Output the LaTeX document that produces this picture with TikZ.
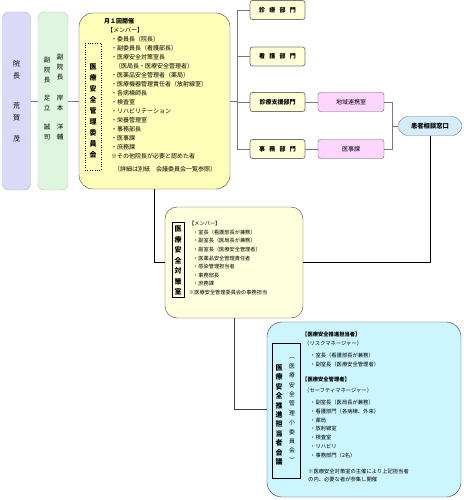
\documentclass[tikz,border=0pt]{standalone}
\usepackage{fontspec}
\setmainfont{Noto Sans CJK JP}
\definecolor{orgPurple}{RGB}{218, 218, 248}
\definecolor{orgGreen}{RGB}{222, 245, 222}
\definecolor{orgYellow}{RGB}{255, 255, 185}
\definecolor{orgCream}{RGB}{255, 255, 222}
\definecolor{orgDept}{RGB}{255, 255, 214}
\definecolor{orgPink}{RGB}{252, 212, 252}
\definecolor{orgSky}{RGB}{212, 236, 252}
\definecolor{orgCyan}{RGB}{204, 246, 255}
\definecolor{orgLine}{RGB}{120, 120, 120}
\usetikzlibrary{shapes.misc, positioning}
\tikzset{
  headbox/.style={rectangle, rounded corners=6pt, draw=#1!60!gray, fill=#1, minimum width=28pt, minimum height=178pt, inner sep=0pt, align=center},
  bigbox/.style={rectangle, rounded corners=14pt, draw=#1!25!black, fill=#1, inner sep=0pt},
  deptbox/.style={rectangle, rounded corners=2.5pt, draw=orgLine, thick, fill=orgDept, minimum width=55pt, minimum height=19pt, inner sep=0pt, font=\fontsize{6}{7}\selectfont\bfseries},
  sectbox/.style={rectangle, rounded corners=2.5pt, draw=orgPink!40!black, fill=orgPink, minimum width=66pt, minimum height=19pt, inner sep=0pt, font=\fontsize{6}{7}\selectfont},
  vtext/.style={align=center, inner sep=0pt, font=\fontsize{#1}{1.5*#1}\selectfont},
  memo/.style={anchor=north west, align=left, inner sep=0pt},
  link/.style={draw=orgLine, semithick},
  mainlink/.style={draw=black, thick},
}
\begin{document}
\begin{tikzpicture}[x=1pt, y=-1pt]
  \useasboundingbox (0,0) rectangle (463,500);

  % director and vice directors
  \node[headbox=orgPurple, font=\fontsize{7}{12}\selectfont] (incho) at (16.5,101) {院\\長\\[18pt]荒\\賀\\[9pt]茂};
  \node[headbox=orgGreen, minimum width=30pt] (fuku) at (53,101) {};
  \node[align=center, inner sep=0pt, font=\fontsize{6.5}{10}\selectfont] (fukuA) at (60,97) {副\\院\\長\\[11pt]岸\\本\\[9pt]洋\\輔};
  \node[align=center, inner sep=0pt, font=\fontsize{6.5}{10}\selectfont] (fukuB) at (47,98.5) {副\\院\\長\\[8pt]足\\立\\[9pt]誠\\司};

  % safety committee
  \node[bigbox=orgYellow, minimum width=151pt, minimum height=176pt] (iinkai) at (154.5,101) {};
  \node[draw=black, dotted, minimum width=16pt, minimum height=127pt, inner sep=0pt] (iinkaiTitle) at (93,106.5) {};
  \node[align=center, inner sep=0pt, font=\fontsize{7}{11}\selectfont\bfseries] (iinkaiName) at (93,111) {医\\療\\安\\全\\管\\理\\委\\員\\会};
  \node[memo, font=\fontsize{6}{9}\selectfont] (iinkaiMemo) at (104,18) {%
    \textbf{月１回開催}\\
    \hspace*{3pt}【メンバー】\\
    \hspace*{7pt}・委員長（院長）\\
    \hspace*{7pt}・副委員長（看護部長）\\
    \hspace*{7pt}・医療安全対策室長\\
    \hspace*{11pt}（医局長・医療安全管理者）\\
    \hspace*{7pt}・医薬品安全管理者（薬局）\\
    \hspace*{7pt}・医療機器管理責任者（放射線室）\\
    \hspace*{7pt}・各病棟師長\\
    \hspace*{7pt}・検査室\\
    \hspace*{7pt}・リハビリテーション\\
    \hspace*{7pt}・栄養管理室\\
    \hspace*{7pt}・事務部長\\
    \hspace*{7pt}・医事課\\
    \hspace*{7pt}・庶務課\\
    \hspace*{7pt}※その他院長が必要と認めた者\\[4pt]
    \hspace*{10pt}（詳細は別紙　会議委員会一覧参照）};

  % departments
  \node[deptbox] (shinryo) at (277.5,10) {診\hspace{4.3pt}療\hspace{4.3pt}部\hspace{4.3pt}門};
  \node[deptbox] (kango) at (277.5,56.5) {看\hspace{4.3pt}護\hspace{4.3pt}部\hspace{4.3pt}門};
  \node[deptbox] (shien) at (277.5,102) {診療支援部門};
  \node[deptbox] (jimu) at (277.5,149) {事\hspace{4.3pt}務\hspace{4.3pt}部\hspace{4.3pt}門};
  \node[sectbox] (chiiki) at (351,102) {地域連携室};
  \node[sectbox] (iji) at (351,149) {医事課};
  \node[chamfered rectangle, chamfered rectangle xsep=3pt, rounded corners=2pt, draw=orgLine, fill=orgSky, minimum width=64pt, minimum height=19pt, inner sep=0pt, font=\fontsize{6.3}{7}\selectfont\bfseries] (madoguchi) at (430,126) {患者相談窓口};

  % safety office
  \node[bigbox=orgCream, rounded corners=12pt, minimum width=138pt, minimum height=111pt] (taisaku) at (234,262.5) {};
  \node[draw=black, minimum width=12pt, minimum height=75pt, inner sep=0pt] (taisakuTitle) at (178,259.5) {};
  \node[align=center, inner sep=0pt, font=\fontsize{7}{10.5}\selectfont\bfseries] (taisakuName) at (178,260.5) {医\\療\\安\\全\\対\\策\\室};
  \node[memo, font=\fontsize{5.2}{8.6}\selectfont] (taisakuMemo) at (189,221) {%
    【メンバー】\\
    \hspace*{4pt}・室長（看護部長が兼務）\\
    \hspace*{4pt}・副室長（医局長が兼務）\\
    \hspace*{4pt}・副室長（医療安全管理者）\\
    \hspace*{4pt}・医薬品安全管理責任者\\
    \hspace*{4pt}・感染管理担当者\\
    \hspace*{4pt}・事務部長\\
    \hspace*{4pt}・庶務課\\
    ※医療安全管理委員会の事務担当};

  % safety promotion meeting
  \node[bigbox=orgCyan, rounded corners=15pt, minimum width=194pt, minimum height=175pt] (suishin) at (364,409.5) {};
  \node[draw=black, minimum width=28pt, minimum height=135pt, inner sep=0pt] (suishinTitle) at (286,410.5) {};
  \node[align=center, inner sep=0pt, font=\fontsize{7}{9.4}\selectfont\bfseries] (suishinName) at (279,415) {医\\療\\安\\全\\推\\進\\担\\当\\者\\会\\議};
  \node[align=center, inner sep=0pt, font=\fontsize{5.8}{9.4}\selectfont] (suishinSub) at (292,410) {︵\\医\\療\\安\\全\\管\\理\\小\\委\\員\\会\\︶};
  \node[memo, font=\fontsize{5.3}{8.8}\selectfont] (suishinMemo) at (302,332) {%
    \textbf{【医療安全推進担当者】}\\
    \hspace*{2pt}（リスクマネージャー）\\[3pt]
    \hspace*{8pt}・室長（看護部長が兼務）\\
    \hspace*{8pt}・副室長（医療安全管理者）\\[7pt]
    \textbf{【医療安全管理者】}\\[2pt]
    \hspace*{2pt}（セーフティマネージャー）\\[3pt]
    \hspace*{8pt}・副室長（医局長が兼務）\\
    \hspace*{8pt}・看護部門（各病棟、外来）\\
    \hspace*{8pt}・薬局\\
    \hspace*{8pt}・放射線室\\
    \hspace*{8pt}・検査室\\
    \hspace*{8pt}・リハビリ\\
    \hspace*{8pt}・事務部門（2名）\\[7pt]
    \hspace*{6pt}※医療安全対策室の主催により上記担当者\\
    \hspace*{6pt}の内、必要な者が参集し開催};

  % connectors
  \coordinate (trunk) at (237,0);
  \coordinate (bracket) at (392,0);
  \draw[link] (incho.east) -- (fuku.west);
  \draw[link] (fuku.east) -- (iinkai.west);
  \draw[link] (iinkai.east) -- (iinkai.east -| trunk);
  \draw[link] (shinryo.west -| trunk) -- (jimu.west -| trunk);
  \foreach \d in {shinryo,kango,shien,jimu} {
    \draw[link] (\d.west) -- (\d.west -| trunk);
  }
  \draw[link] (shien.east) -- (chiiki.west);
  \draw[link] (jimu.east) -- (iji.west);
  \draw[link] (chiiki.east) -| (iji.east -| bracket) -- (iji.east);
  \draw[link] (madoguchi.west -| bracket) -- (madoguchi.west);
  \draw[mainlink] (iinkai.south) |- (taisaku.west);
  \draw[mainlink] (madoguchi.south) |- (taisaku.east);
  \draw[draw=black!75, semithick] (taisaku.south) |- (suishin.west);
\end{tikzpicture}
\end{document}
